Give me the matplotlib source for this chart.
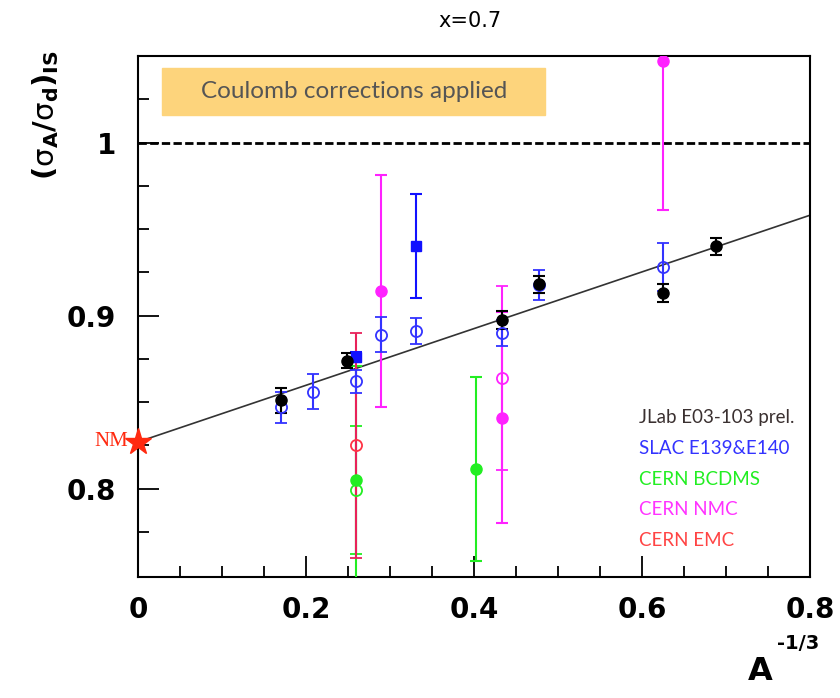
import matplotlib as mpl
import matplotlib.pyplot as plt
from matplotlib.patches import Rectangle

mpl.rcParams['mathtext.default'] = 'rm'

# JLab E03-103 (black filled)
jlab_x = [0.170, 0.249, 0.433, 0.477, 0.625, 0.688]
jlab_y = [0.851, 0.874, 0.8975, 0.918, 0.913, 0.940]
jlab_e = [0.007, 0.0045, 0.005, 0.005, 0.005, 0.005]

# SLAC E139 (blue open)
slac_x = [0.170, 0.208, 0.260, 0.289, 0.331, 0.433, 0.477, 0.625]
slac_y = [0.847, 0.856, 0.862, 0.889, 0.891, 0.890, 0.9175, 0.928]
slac_e = [0.009, 0.010, 0.0065, 0.010, 0.0075, 0.0075, 0.0087, 0.014]

# SLAC E140 (blue filled squares)
e140_x = [0.260, 0.331]
e140_y = [0.876, 0.940]
e140_e = [0.003, 0.030]

# CERN BCDMS
bcdms_x = [0.260, 0.402]
bcdms_y = [0.805, 0.8115]
bcdms_e = [0.066, 0.053]
bcdms_open_x = [0.260]
bcdms_open_y = [0.799]
bcdms_open_e = [0.037]

# CERN NMC
nmc_x = [0.289, 0.433, 0.625]
nmc_y = [0.914, 0.841, 1.047]
nmc_e = [0.067, 0.061, 0.086]
nmc_open_x = [0.433]
nmc_open_y = [0.864]
nmc_open_e = [0.053]

# CERN EMC
emc_x = [0.260]
emc_y = [0.825]
emc_e = [0.065]

# fit line / nuclear matter
fit_x = [0.0, 0.8]
fit_y = [0.827, 0.958]
nm_x, nm_y = 0.0, 0.827

legend_names = ['JLab E03-103 prel.', 'SLAC E139&E140', 'CERN BCDMS', 'CERN NMC', 'CERN EMC']
legend_colors = ['#3a3030', '#3333ff', '#22ee22', '#ff33ff', '#ff4444']

fig = plt.figure(figsize=(8.4, 6.98), dpi=100)
ax = fig.add_axes([0.1643, 0.1734, 0.8, 0.7464])

ax.add_patch(Rectangle((0.029, 1.016), 0.456, 0.027, color='#fdd47c', zorder=1))
ax.text(0.257, 1.0295, 'Coulomb corrections applied', ha='center', va='center',
        color='#555555', fontsize=17.5, family='Lato')

ax.plot([0, 0.8], [1, 1], color='black', ls=(0, (3, 1.2)), lw=2, zorder=2)
ax.plot(fit_x, fit_y, color='#333333', lw=1.2, zorder=2)

kw = dict(ls='none', capsize=4, elinewidth=1.5, capthick=1.5, zorder=3)
ax.errorbar(bcdms_x, bcdms_y, yerr=bcdms_e, fmt='o', color='#22ee22', ms=8, **kw)
ax.errorbar(bcdms_open_x, bcdms_open_y, yerr=bcdms_open_e, fmt='o', color='#22ee22',
            mfc='none', ms=8, mew=1.3, **kw)
ax.errorbar(emc_x, emc_y, yerr=emc_e, fmt='o', color='#ff3344', ecolor='#e8225a',
            mfc='none', ms=8, mew=1.3, **kw)
ax.errorbar(nmc_x, nmc_y, yerr=nmc_e, fmt='o', color='#ff22ff', ms=8, **kw)
ax.errorbar(nmc_open_x, nmc_open_y, yerr=nmc_open_e, fmt='o', color='#ff22ff',
            mfc='none', ms=8, mew=1.3, **kw)
ax.errorbar(slac_x, slac_y, yerr=slac_e, fmt='o', color='#3333ff',
            mfc='none', ms=8, mew=1.3, **kw)
ax.errorbar(e140_x, e140_y, yerr=e140_e, fmt='s', color='#1111ff', ms=6.5, **kw)
ax.errorbar(jlab_x, jlab_y, yerr=jlab_e, fmt='o', color='black', ms=8, **kw)

ax.plot([nm_x], [nm_y], marker='*', color='#ff2a10', ms=20, clip_on=False, zorder=5)
ax.text(-0.012, nm_y, 'NM', color='#ff2a10', fontsize=15, family='Liberation Serif',
        ha='right', va='center')

for i, (name, col) in enumerate(zip(legend_names, legend_colors)):
    ax.text(0.596, 0.841 - i * 0.0177, name, color=col, fontsize=13.5,
            family='Lato', ha='left', va='center')

ax.set_xlim(0, 0.8)
ax.set_ylim(0.749, 1.05)
ax.set_xticks([0, 0.2, 0.4, 0.6, 0.8])
ax.set_xticklabels(['0', '0.2', '0.4', '0.6', '0.8'])
ax.set_xticks([i * 0.05 for i in range(17)], minor=True)
ax.set_yticks([0.8, 0.9, 1.0])
ax.set_yticklabels(['0.8', '0.9', '1'])
ax.set_yticks([0.775 + i * 0.025 for i in range(11)], minor=True)
ax.tick_params(which='both', direction='in', top=False, right=False, width=1.3)
ax.tick_params(which='major', length=15)
ax.tick_params(which='minor', length=8)
ax.tick_params(axis='x', pad=14)
ax.tick_params(axis='y', pad=16)
for lab in ax.get_xticklabels() + ax.get_yticklabels():
    lab.set_fontsize(20)
    lab.set_fontweight('bold')
for s in ax.spines.values():
    s.set_linewidth(1.5)

fig.text(0.56, 0.97, 'x=0.7', ha='center', va='center', fontsize=15)
fig.text(0.054, 0.835, r'($\sigma_{\mathbf{A}}$/$\sigma_{\mathbf{d}}$)$_{\mathbf{IS}}$',
         rotation=90, ha='center', va='center', fontsize=21, fontweight='bold')
fig.text(0.905, 0.038, 'A', ha='center', va='center', fontsize=23, fontweight='bold')
fig.text(0.925, 0.078, '-1/3', ha='left', va='center', fontsize=14, fontweight='bold')

fig.savefig('out.png', dpi=100)
